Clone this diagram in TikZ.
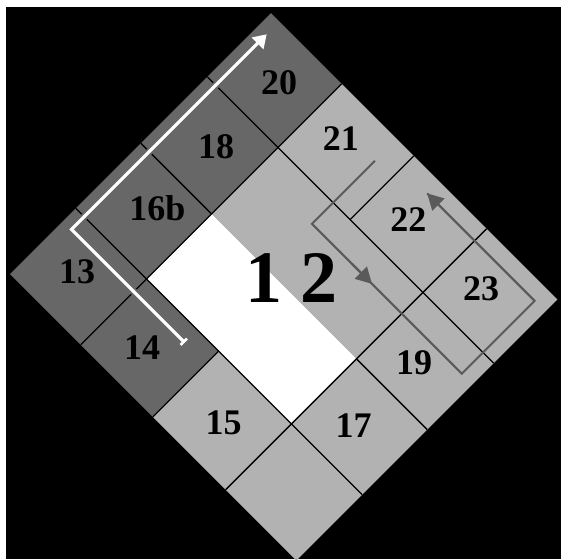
\documentclass[tikz,border=0pt]{standalone}
\usepackage{fontspec}
\setmainfont{Liberation Serif}
\usetikzlibrary{arrows.meta}
\definecolor{darkc}{HTML}{676767}
\definecolor{lightc}{HTML}{B2B2B2}
\definecolor{loopc}{HTML}{5A5A5A}
\begin{document}
\begin{tikzpicture}[x=1pt,y=-1pt,
  gridline/.style={black, line width=1.3pt},
  lbl/.style={font=\fontsize{36}{36}\selectfont\bfseries, inner sep=0pt, anchor=center},
  biglbl/.style={font=\fontsize{74}{74}\selectfont\bfseries, inner sep=0pt, anchor=center},
  casing/.style={darkc, line width=7pt},
  whitearrow/.style={white, line width=3.2pt, {Bar[width=9pt,line width=2.6pt]}-{Triangle[length=13pt,width=16pt]}},
  looppath/.style={loopc, line width=2pt},
  loophead/.style={loopc, line width=2pt, -{Triangle[length=16pt,width=17pt]}}]
\useasboundingbox (0,0) rectangle (561,559);
\fill[white] (0,0) rectangle (561,559);
\fill[black] (6,7) rectangle (561,559);
\begin{scope}[shift={(10pt,-274pt)}, x={(0.7071pt,0.7071pt)}, y={(0.7071pt,-0.7071pt)}]
  % cell fills
  \fill[darkc] (0,0) -- (369,0) -- (369,100) -- (93,100) -- (93,202) -- (0,202) -- cycle;
  \fill[lightc] (0,202) -- (93,202) -- (93,305) -- (185,305) -- (185,100) -- (369,100) -- (369,405) -- (0,405) -- cycle;
  \fill[white] (93,100) -- (185,100) -- (185,305) -- (93,305) -- cycle;
  % grid lines
  \draw[gridline] (93,0) -- (93,405);
  \draw[gridline] (279,0) -- (279,405);
  \draw[gridline] (185,0) -- (185,100);
  \draw[gridline] (185,305) -- (185,405);
  \draw[gridline] (0,100) -- (369,100);
  \draw[gridline] (0,305) -- (369,305);
  \draw[gridline] (0,202) -- (93,202);
  \draw[gridline] (279,202) -- (369,202);
  % white arrow
  \coordinate (ws) at (75,172);
  \coordinate (wc) at (75,12);
  \coordinate (wt) at (351,12);
  \coordinate (wcs) at (340,12);
  \draw[casing] (ws) -- (wc) -- (wcs);
  \draw[whitearrow] (ws) -- (wc) -- (wt);
  % grey loop
  \coordinate (g1) at (338,178);
  \coordinate (g2) at (249,178);
  \coordinate (g3) at (249,390);
  \coordinate (g4) at (352,390);
  \coordinate (g5) at (352,238);
  \coordinate (gm1) at (249,235);
  \coordinate (gm2) at (249,263);
  \draw[looppath] (g1) -- (g2) -- (g3) -- (g4) -- (g5);
  \draw[loophead] (g4) -- (g5);
  \draw[loophead] (gm1) -- (gm2);
\end{scope}
% labels
\node[lbl] (l20) at (279,83) {20};
\node[lbl] (l18) at (216,147) {18};
\node[lbl] (l16b) at (157.5,208) {16b};
\node[lbl] (l13) at (77,272) {13};
\node[lbl] (l14) at (142,348) {14};
\node[lbl] (l15) at (223.7,423) {15};
\node[lbl] (l17) at (353.7,426) {17};
\node[lbl] (l19) at (414,363) {19};
\node[lbl] (l23) at (481,289) {23};
\node[lbl] (l22) at (408.3,220) {22};
\node[lbl] (l21) at (340.8,139) {21};
\node[biglbl] (l12) at (291.5,278) {1 2};
\end{tikzpicture}
\end{document}
